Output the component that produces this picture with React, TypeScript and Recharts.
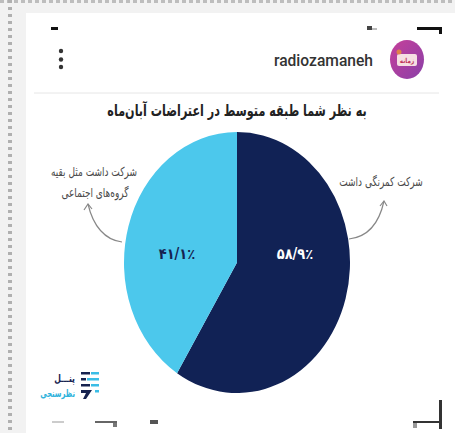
import React from "react";
import { PieChart, Pie, Cell } from "recharts";

const SLICE_NAMES = ["شرکت کمرنگی داشت", "شرکت داشت مثل بقیه گروه‌های اجتماعی"];
const SLICE_VALUES = [58.9, 41.1];
const SLICE_LABELS = ["۵۸/۹٪", "۴۱/۱٪"];
const SLICE_COLORS = ["#112255", "#4cc8ec"];

const TITLE = "به نظر شما طبقه متوسط در اعتراضات آبان‌ماه";
const ACCOUNT = "radiozamaneh";
const AVATAR_TEXT = "زمانه";
const LEFT_NOTE = ["شرکت داشت مثل بقیه", "گروه‌های اجتماعی"];
const RIGHT_NOTE = "شرکت کمرنگی داشت";
const LOGO_TOP = "پنـــل";
const LOGO_BOTTOM = "نظرسنجی";

const pieData = SLICE_NAMES.map((name, i) => ({
  name,
  value: SLICE_VALUES[i],
  label: SLICE_LABELS[i],
}));

const FA = '"DejaVu Sans", sans-serif';
const CX = 237;
const CY = 262.5;
const STRETCH = 1.155;
const LABEL_DX = [58, -60];

function sliceLabel(props: any) {
  const { cx, cy, index } = props;
  return (
    <text
      x={cx + LABEL_DX[index]}
      y={cy - 8}
      textAnchor="middle"
      dominantBaseline="central"
      fill={index === 0 ? "#ffffff" : "#16224f"}
      fontFamily={FA}
      fontWeight="bold"
      fontSize={13}
    >
      {SLICE_LABELS[index]}
    </text>
  );
}

// persian text in the source is narrower than DejaVu, so squeeze it horizontally
function FaText({ x, y, sx, size, fill, bold, anchor = "middle", children }: any) {
  return (
    <text
      transform={`translate(${x} ${y}) scale(${sx} 1)`}
      textAnchor={anchor}
      direction="rtl"
      fontFamily={FA}
      fontWeight={bold ? "bold" : "normal"}
      fontSize={size}
      fill={fill}
    >
      {children}
    </text>
  );
}

function Backdrop() {
  return (
    <svg width={455} height={433} style={{ position: "absolute", left: 0, top: 0 }}>
      <rect width={455} height={433} fill="#f2f2f2" />
      <rect x={26} y={13} width={429} height={420} fill="#ffffff" />
      <line x1={0} y1={1.5} x2={455} y2={1.5} stroke="#bdbdbd" strokeWidth={3} strokeDasharray="4 3" />
      <line x1={10} y1={0} x2={10} y2={433} stroke="#b0b0b0" strokeWidth={4} strokeDasharray="3 4" />
      <line x1={34} y1={93} x2={439} y2={93} stroke="#e6e6e6" />
      <rect x={51} y={27} width={7} height={3} fill="#111" />
      <rect x={367} y={26} width={5} height={4} fill="#444" />
      <rect x={372} y={28} width={5} height={2} fill="#bbb" />
      <rect x={417} y={27} width={25} height={3} fill="#111" />
      <rect x={439} y={27} width={3} height={7} fill="#111" />
      <rect x={52} y={421} width={12} height={2} fill="#ccc" />
      <rect x={95} y={421} width={22} height={2} fill="#666" />
      <rect x={113} y={423} width={4} height={4} fill="#777" />
      <rect x={150} y={420} width={8} height={4} fill="#555" />
      <rect x={413} y={421} width={28} height={2} fill="#333" />
      <rect x={413} y={423} width={4} height={5} fill="#999" />
      <rect x={439} y={400} width={3} height={29} fill="#333" />
      <circle cx={61} cy={51} r={2.2} fill="#333" />
      <circle cx={61} cy={59.5} r={2.2} fill="#333" />
      <circle cx={61} cy={67} r={2.2} fill="#333" />
      <defs>
        <linearGradient id="avatar" x1="0" y1="0" x2="1" y2="1">
          <stop offset="0%" stopColor="#c6409a" />
          <stop offset="100%" stopColor="#8a3fa8" />
        </linearGradient>
      </defs>
      <ellipse cx={407} cy={59.5} rx={17} ry={19.5} fill="url(#avatar)" />
      <rect x={397} y={54} width={20} height={12} rx={2} fill="#f6dfe2" />
      <circle cx={399} cy={52} r={2.5} fill="#e0804a" />
      <FaText x={407} y={63} sx={0.8} size={7} fill="#c0335a" bold>
        {AVATAR_TEXT}
      </FaText>
      <text x={373} y={66} textAnchor="end" fontFamily="Roboto, sans-serif" fontWeight={500} fontSize={15.6} fill="#333">
        {ACCOUNT}
      </text>
      <FaText x={237} y={116} sx={0.7} size={16} fill="#222" bold>
        {TITLE}
      </FaText>
      <FaText x={94} y={176} sx={0.72} size={12.5} fill="#4a4a4a">
        {LEFT_NOTE[0]}
      </FaText>
      <FaText x={95} y={197} sx={0.72} size={12.5} fill="#4a4a4a">
        {LEFT_NOTE[1]}
      </FaText>
      <FaText x={381} y={185.5} sx={0.72} size={12.5} fill="#4a4a4a">
        {RIGHT_NOTE}
      </FaText>
      <path d="M122 242 C105 240 93 226 88 204" fill="none" stroke="#888" strokeWidth={1.2} />
      <path d="M84 210 L88 204 L92 209" fill="none" stroke="#888" strokeWidth={1.2} />
      <path d="M349 239 C367 237 379 224 384 201" fill="none" stroke="#888" strokeWidth={1.2} />
      <path d="M380 206 L384 201 L387 206" fill="none" stroke="#888" strokeWidth={1.2} />
      <FaText x={75} y={382} sx={0.7} size={11} fill="#16224f" bold anchor="start">
        {LOGO_TOP}
      </FaText>
      <FaText x={75} y={397} sx={0.62} size={11} fill="#2fb3dc" bold anchor="start">
        {LOGO_BOTTOM}
      </FaText>
      <rect x={81} y={372} width={9} height={2.5} fill="#16224f" />
      <rect x={91} y={372} width={8} height={2.5} fill="#3bbde6" />
      <rect x={81} y={378} width={5} height={2.5} fill="#16224f" />
      <rect x={87} y={378} width={12} height={2.5} fill="#3bbde6" />
      <rect x={81} y={384} width={9} height={2.5} fill="#16224f" />
      <rect x={91} y={384} width={8} height={2.5} fill="#3bbde6" />
      <path d="M81 390 H92 L86 399 H83 L86 393 H81 Z" fill="#16224f" />
      <rect x={95} y={390} width={4} height={2.5} fill="#3bbde6" />
    </svg>
  );
}

export default function App() {
  return (
    <div style={{ position: "fixed", left: 0, top: 0, width: 455, height: 433, overflow: "hidden" }}>
      <Backdrop />
      {/* the source image is stretched vertically, so the round pie gets scaled too */}
      <div
        style={{
          position: "absolute",
          left: 0,
          top: 0,
          transform: `scaleY(${STRETCH})`,
          transformOrigin: `${CX}px ${CY}px`,
        }}
      >
        <PieChart width={455} height={433} margin={{ top: 0, right: 0, bottom: 0, left: 0 }}>
          <Pie
            data={pieData}
            dataKey="value"
            nameKey="name"
            cx={CX}
            cy={CY}
            outerRadius={113}
            startAngle={90}
            endAngle={-270}
            stroke="none"
            label={sliceLabel}
            labelLine={false}
            isAnimationActive={false}
          >
            {pieData.map((d, i) => (
              <Cell key={d.name} fill={SLICE_COLORS[i]} />
            ))}
          </Pie>
        </PieChart>
      </div>
    </div>
  );
}
